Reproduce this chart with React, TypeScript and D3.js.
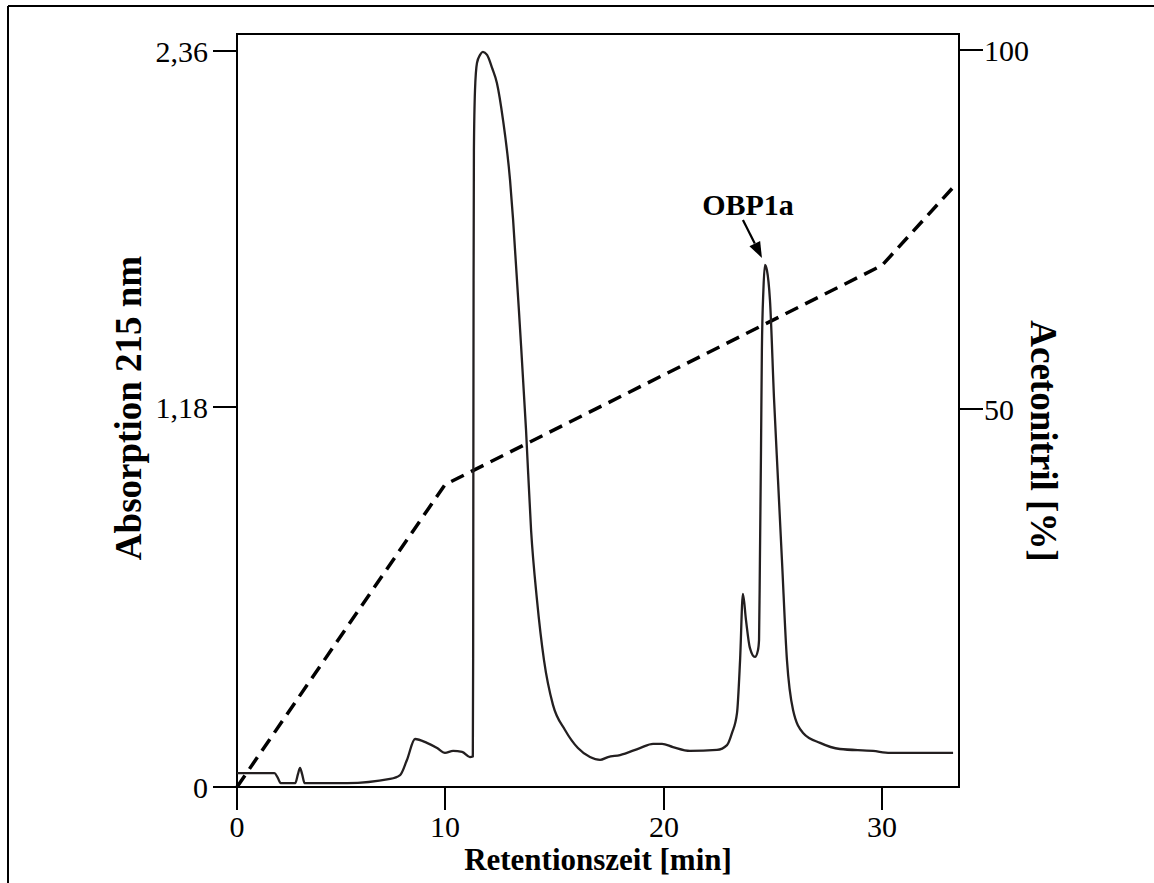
import React from "react";
import * as d3 from "d3";

// Chromatogram: retention time (min) vs absorption at 215 nm
const timeMin = [0, 1.8, 1.95, 2.1, 2.8, 2.93, 3.03, 3.13, 3.25, 5.3, 7.36, 7.84, 8.17, 8.56, 9.13, 9.62, 10.0, 10.37, 10.78, 11.14, 11.27, 11.285, 11.295, 11.305, 11.32, 11.37, 11.46, 11.6, 11.73, 11.92, 12.15, 12.37, 12.65, 12.97, 13.11, 13.43, 13.7, 13.93, 14.2, 14.52, 14.93, 15.48, 16.07, 16.62, 17.08, 17.44, 17.99, 18.9, 19.5, 19.91, 20.41, 21.19, 22.43, 22.89, 23.12, 23.35, 23.49, 23.62, 23.76, 23.94, 24.17, 24.31, 24.36, 24.4, 24.45, 24.49, 24.56, 24.63, 24.72, 24.86, 25.05, 25.23, 25.41, 25.64, 25.92, 26.38, 27.16, 28.07, 29.59, 30.37, 31.88, 33.26];
const absorbance = [0.043, 0.043, 0.03, 0.012, 0.012, 0.04, 0.059, 0.04, 0.012, 0.012, 0.025, 0.037, 0.084, 0.149, 0.137, 0.121, 0.106, 0.112, 0.109, 0.093, 0.095, 0.4, 1.0, 1.6, 2.03, 2.23, 2.32, 2.347, 2.357, 2.347, 2.304, 2.254, 2.131, 1.932, 1.8, 1.435, 1.109, 0.798, 0.581, 0.394, 0.255, 0.177, 0.121, 0.093, 0.084, 0.093, 0.099, 0.121, 0.134, 0.134, 0.124, 0.112, 0.115, 0.13, 0.168, 0.23, 0.394, 0.6, 0.519, 0.432, 0.404, 0.425, 0.457, 0.705, 1.047, 1.369, 1.568, 1.651, 1.634, 1.535, 1.203, 0.953, 0.705, 0.394, 0.239, 0.168, 0.137, 0.118, 0.112, 0.106, 0.106, 0.106];

// Acetonitrile gradient (dashed)
const gradTime = [0, 10, 30, 33.3];
const gradPct = [0, 40, 70, 81];

// Axis ticks
const xTicks = [0, 10, 20, 30];
const yLeftTicks = [0, 1.18, 2.36];
const yLeftLabels = ["0", "1,18", "2,36"];
const yRightTicks = [50, 100];
const yRightLabels = ["50", "100"];

const peakLabel = "OBP1a";
const peakTime = 24.63;
const peakAbs = 1.651;

const FONT = "'Liberation Serif', 'Times New Roman', Times, serif";

export default function App() {
  const left = 237, right = 959, top = 34, bottom = 787;
  const x = d3.scaleLinear().domain([0, 10, 20, 30]).range([237, 445, 664, 882]);
  const yL = d3.scaleLinear().domain([0, 1.18, 2.36]).range([787, 407, 51]);
  const yR = d3.scaleLinear().domain([0, 50, 100]).range([787, 409, 50]);

  const chromPts: [number, number][] = timeMin.map((t, i) => [t, absorbance[i]]);
  const gradPts: [number, number][] = gradTime.map((t, i) => [t, gradPct[i]]);

  const chromLine = d3
    .line<[number, number]>()
    .x((d) => x(d[0]))
    .y((d) => yL(d[1]))
    .curve(d3.curveMonotoneX);
  const gradLine = d3
    .line<[number, number]>()
    .x((d) => x(d[0]))
    .y((d) => yR(d[1]));

  const px = x(peakTime), py = yL(peakAbs);
  const ax0 = px - 22, ay0 = py - 45;
  const ax1 = px - 3, ay1 = py - 7;
  const ang = Math.atan2(ay1 - ay0, ax1 - ax0);
  const hl = 16, hw = 6;
  const bx = ax1 - hl * Math.cos(ang), by = ay1 - hl * Math.sin(ang);
  const head = `M${ax1},${ay1} L${bx + hw * Math.sin(ang)},${by - hw * Math.cos(ang)} L${bx - hw * Math.sin(ang)},${by + hw * Math.cos(ang)} Z`;

  return (
    <svg
      width={1154}
      height={883}
      style={{ position: "absolute", left: 0, top: 0, background: "#fff" }}
      fontFamily={FONT}
    >
      <rect x={0} y={0} width={1154} height={883} fill="#fff" />
      {/* outer frame */}
      <line x1={8} y1={6} x2={1154} y2={6} stroke="#000" strokeWidth={2} />
      <line x1={8} y1={6} x2={8} y2={883} stroke="#000" strokeWidth={2} />

      {/* plot box */}
      <rect x={left} y={top} width={right - left} height={bottom - top} fill="none" stroke="#000" strokeWidth={2} />

      {/* x ticks */}
      {xTicks.map((t) => (
        <g key={"x" + t}>
          <line x1={x(t)} x2={x(t)} y1={bottom} y2={bottom + 23} stroke="#000" strokeWidth={2} />
          <text x={x(t)} y={837} fontSize={30} textAnchor="middle" fill="#000">
            {t}
          </text>
        </g>
      ))}
      {/* left ticks */}
      {yLeftTicks.map((t, i) => (
        <g key={"yl" + t}>
          <line x1={left - 24} x2={left} y1={yL(t)} y2={yL(t)} stroke="#000" strokeWidth={2} />
          <text x={208} y={yL(t)} dy="0.35em" fontSize={30} textAnchor="end" fill="#000">
            {yLeftLabels[i]}
          </text>
        </g>
      ))}
      {/* right ticks */}
      {yRightTicks.map((t, i) => (
        <g key={"yr" + t}>
          <line x1={right} x2={right + 24} y1={yR(t)} y2={yR(t)} stroke="#000" strokeWidth={2} />
          <text x={984} y={yR(t)} dy="0.35em" fontSize={30} textAnchor="start" fill="#000">
            {yRightLabels[i]}
          </text>
        </g>
      ))}

      {/* axis titles */}
      <text x={598} y={870} fontSize={31} fontWeight="bold" textAnchor="middle" fill="#000">
        Retentionszeit [min]
      </text>
      <text
        transform={`translate(128,408) rotate(-90)`}
        dy="0.35em"
        fontSize={37}
        fontWeight="bold"
        textAnchor="middle"
        fill="#000"
      >
        Absorption 215 nm
      </text>
      <text
        transform={`translate(1044,441) rotate(90)`}
        dy="0.35em"
        fontSize={37}
        fontWeight="bold"
        textAnchor="middle"
        fill="#000"
      >
        Acetonitril [%]
      </text>

      {/* gradient */}
      <path d={gradLine(gradPts) || ""} fill="none" stroke="#000" strokeWidth={3.5} strokeDasharray="14,8" />

      {/* chromatogram */}
      <path d={chromLine(chromPts) || ""} fill="none" stroke="#231f20" strokeWidth={2.3} strokeLinejoin="round" />

      {/* peak annotation */}
      <line x1={ax0} y1={ay0} x2={bx} y2={by} stroke="#000" strokeWidth={2.2} />
      <path d={head} fill="#000" />
      <text x={748} y={215} fontSize={30} fontWeight="bold" textAnchor="middle" fill="#000">
        {peakLabel}
      </text>
    </svg>
  );
}
